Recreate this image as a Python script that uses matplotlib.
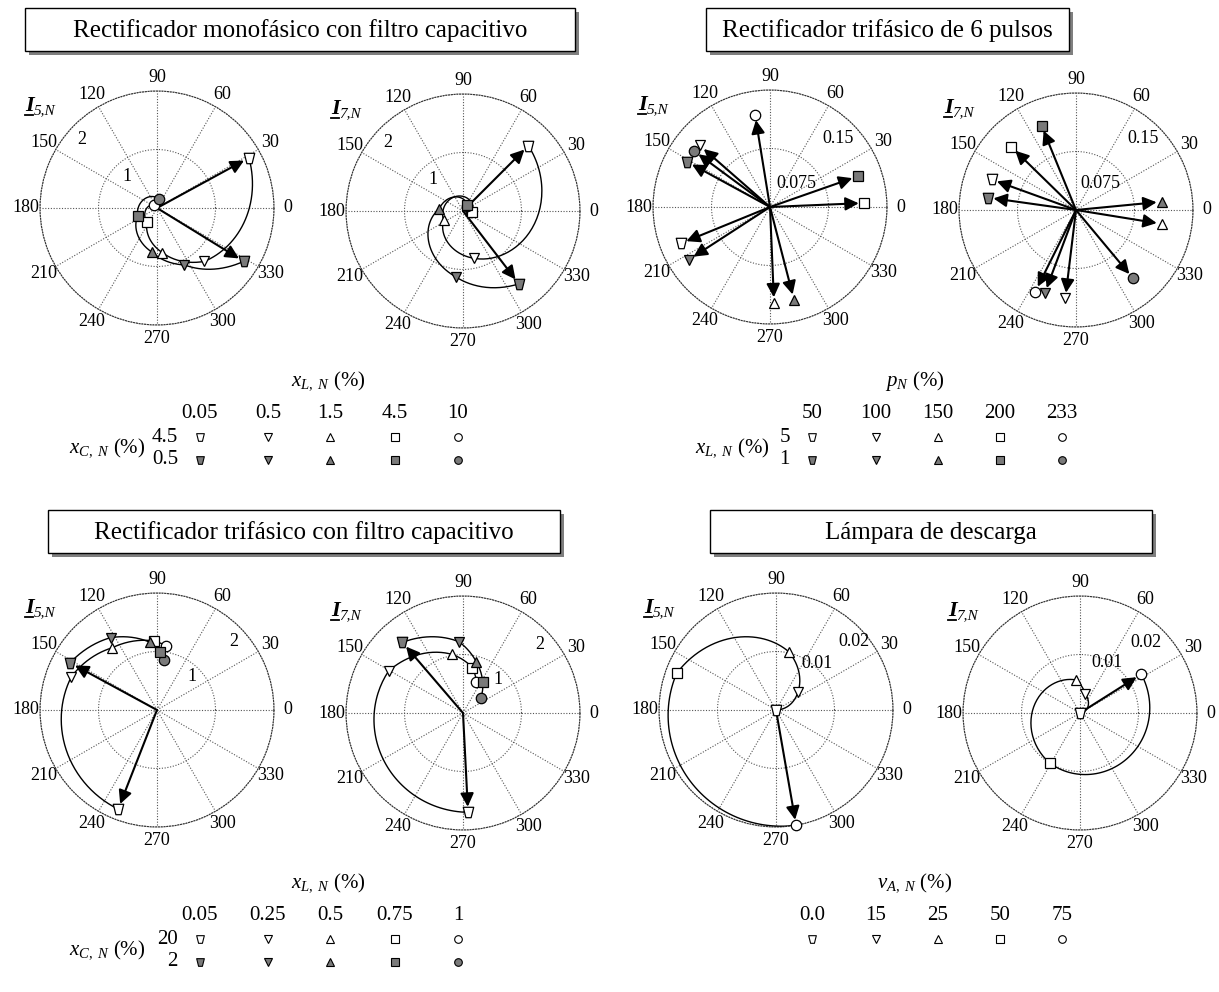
import numpy as np
import matplotlib
matplotlib.use('Agg')
import matplotlib.pyplot as plt
from matplotlib.path import Path
from matplotlib.patches import Rectangle

plt.rcParams['font.family'] = 'Liberation Serif'
plt.rcParams['mathtext.fontset'] = 'custom'
plt.rcParams['mathtext.rm'] = 'Liberation Serif'
plt.rcParams['mathtext.it'] = 'Liberation Serif:italic'
plt.rcParams['mathtext.bf'] = 'Liberation Serif:bold'

# --- datos (angulo en grados, modulo en p.u.) ---
# rectificador monofasico con filtro capacitivo: xC = 4.5 % (blanco), 0.5 % (gris)
mono_xl = ['0.05', '0.5', '1.5', '4.5', '10']
mono_xc = ['4.5', '0.5']
mono_i5_open_ang = [28.6, -48.4, -83.0, -125.0, -225.0]
mono_i5_open_mag = [1.79, 1.22, 0.77, 0.30, 0.07]
mono_i5_fill_ang = [-31.6, -64.2, -96.4, -157.0, -280.0]
mono_i5_fill_mag = [1.74, 1.08, 0.76, 0.36, 0.16]
mono_i7_open_ang = [45.0, -77.0, -154.0, -367.0, -367.0]
mono_i7_open_mag = [1.58, 0.83, 0.37, 0.15, 0.13]
mono_i7_fill_ang = [-52.5, -96.5, -184.0, -307.0, -307.0]
mono_i7_fill_mag = [1.57, 1.13, 0.41, 0.12, 0.10]

# rectificador trifasico de 6 pulsos: xL = 5 % (blanco), 1 % (gris)
six_pn = ['50', '100', '150', '200', '233']
six_xl = ['5', '1']
six_i5_open_ang = [202.2, 138.8, 272.4, 2.4, 99.2]
six_i5_open_mag = [0.123, 0.120, 0.123, 0.121, 0.120]
six_i5_fill_ang = [151.4, 213.0, 284.5, 19.3, 143.6]
six_i5_fill_mag = [0.121, 0.124, 0.123, 0.119, 0.121]
six_i7_open_ang = [160.1, 263.1, 350.8, 135.7, 243.5]
six_i7_open_mag = [0.115, 0.114, 0.112, 0.116, 0.117]
six_i7_fill_ang = [172.0, 249.4, 5.5, 112.2, 309.8]
six_i7_fill_mag = [0.114, 0.114, 0.111, 0.117, 0.114]

# rectificador trifasico con filtro capacitivo: xC = 20 % (blanco), 2 % (gris)
tri_xl = ['0.05', '0.25', '0.5', '0.75', '1']
tri_xc = ['20', '2']
tri_i5_open_ang = [248.6, 158.7, 125.7, 92.2, 82.0]
tri_i5_open_mag = [1.82, 1.57, 1.31, 1.18, 1.11]
tri_i5_fill_ang = [151.5, 122.7, 95.6, 86.7, 82.4]
tri_i5_fill_mag = [1.69, 1.47, 1.16, 0.99, 0.86]
tri_i7_open_ang = [272.9, 150.6, 100.7, 78.3, 66.7]
tri_i7_open_mag = [1.70, 1.46, 1.02, 0.79, 0.58]
tri_i7_fill_ang = [130.6, 93.2, 75.3, 58.0, 40.9]
tri_i7_fill_mag = [1.59, 1.22, 0.90, 0.63, 0.40]

# lampara de descarga
lamp_va = ['0.0', '15', '25', '50', '75']
lamp_i5_ang = [0.0, 39.8, 77.7, 159.7, 279.9]
lamp_i5_mag = [0.0, 0.0049, 0.0102, 0.0181, 0.0200]
lamp_i7_ang = [0.0, 75.3, 97.0, 239.0, 392.3]
lamp_i7_mag = [0.0, 0.0034, 0.0057, 0.0100, 0.0124]

trap = Path([(-1, 1), (1, 1), (0.5, -1), (-0.5, -1), (-1, 1)],
            [Path.MOVETO, Path.LINETO, Path.LINETO, Path.LINETO, Path.CLOSEPOLY])
markers = [trap, 'v', '^', 's', 'o']
GREY = '#7a7a7a'

W, H = 1219, 992
fig = plt.figure(figsize=(W / 100, H / 100), dpi=100)
ov = fig.add_axes([0, 0, 1, 1])
ov.set_xlim(0, W)
ov.set_ylim(H, 0)
ov.axis('off')


def polar_at(cx, cy, rmax, R=117):
    ax = fig.add_axes([(cx - R) / W, (H - cy - R) / H, 2 * R / W, 2 * R / H], projection='polar')
    ax.set_ylim(0, rmax)
    ax.set_yticks([rmax / 2, rmax])
    ax.set_yticklabels([])
    angs = list(range(0, 360, 30))
    ax.set_thetagrids(angs, [str(a) for a in angs], fontsize=13)
    ax.tick_params(axis='x', pad=3, length=0)
    ax.grid(True, color='#555555', linestyle=(0, (1, 1.5)), linewidth=0.8)
    ax.spines['polar'].set_linestyle((0, (1, 1.5)))
    ax.spines['polar'].set_linewidth(0.8)
    ax.spines['polar'].set_color('#333333')
    return ax


def harm_label(ax, n):
    ax.text(-0.065, 0.915, 'I', transform=ax.transAxes, fontsize=16, style='italic',
            weight='bold', ha='left', va='baseline')
    ax.text(-0.028, 0.90, '%d,N' % n, transform=ax.transAxes, fontsize=11, style='italic',
            ha='left', va='baseline')
    ax.plot([-0.066, -0.03], [0.897, 0.897], transform=ax.transAxes, color='k', lw=1.3,
            clip_on=False)


def rlabels(ax, items):
    for ang, r, s in items:
        ax.text(np.radians(ang), r, s, ha='center', va='center', fontsize=13)


def series(ax, ang, mag, filled, curve=True, arrows=()):
    th = np.radians(ang)
    face = GREY if filled else 'white'
    if curve:
        ln, = ax.plot(th, mag, color='k', lw=1.0, zorder=3)
        ln.get_path()._interpolation_steps = 60
    for i in arrows:
        ax.annotate('', xy=(th[i], mag[i]), xytext=(0, 0), annotation_clip=False,
                    arrowprops=dict(arrowstyle='-|>', color='k', lw=1.5, mutation_scale=20,
                                    shrinkA=0, shrinkB=4), zorder=4)
    for i in reversed(range(len(ang))):
        ax.plot(th[i], mag[i], marker=markers[i], ms=7.5, mfc=face, mec='k', mew=0.9,
                ls='none', zorder=5, clip_on=False)


def title_box(x0, x1, y0, y1, text):
    ov.add_patch(Rectangle((x0 + 4, y0 + 4), x1 - x0, y1 - y0, fc='#7f7f7f', ec='none'))
    ov.add_patch(Rectangle((x0, y0), x1 - x0, y1 - y0, fc='white', ec='k', lw=1.0))
    ov.text((x0 + x1) / 2, (y0 + y1) / 2 + 1, text, ha='center', va='center', fontsize=18)


def legend(xs, y0, head, hx, cols, rows=None, rowname=None, lx=None):
    ov.text(hx, y0, head, ha='center', va='center', fontsize=15)
    for x, c in zip(xs, cols):
        ov.text(x, y0 + 32, c, ha='center', va='center', fontsize=15)
    nrows = 2 if rows else 1
    for k in range(nrows):
        y = y0 + 56 + 23 * k
        for i, x in enumerate(xs):
            ov.plot(x, y, marker=markers[i], ms=5.5, mfc=GREY if k else 'white', mec='k',
                    mew=0.8, ls='none')
        if rows:
            ov.text(xs[0] - 22, y, rows[k], ha='right', va='center', fontsize=15)
    if rowname:
        ov.text(lx, y0 + 67, rowname, ha='center', va='center', fontsize=15)


# --- titulos ---
title_box(25, 575, 8, 51, 'Rectificador monofásico con filtro capacitivo')
title_box(706, 1069, 8, 51, 'Rectificador trifásico de 6 pulsos')
title_box(48, 560, 510, 553, 'Rectificador trifásico con filtro capacitivo')
title_box(710, 1152, 510, 553, 'Lámpara de descarga')

# --- monofasico ---
ax = polar_at(157, 208, 2)
harm_label(ax, 5)
rlabels(ax, [(134, 0.74, '1'), (138, 1.74, '2')])
series(ax, mono_i5_open_ang, mono_i5_open_mag, False, arrows=[0])
series(ax, mono_i5_fill_ang, mono_i5_fill_mag, True, arrows=[0])

ax = polar_at(463, 211, 2)
harm_label(ax, 7)
rlabels(ax, [(134, 0.74, '1'), (138, 1.74, '2')])
series(ax, mono_i7_open_ang, mono_i7_open_mag, False, arrows=[0])
series(ax, mono_i7_fill_ang, mono_i7_fill_mag, True, arrows=[0])

# --- 6 pulsos ---
ax = polar_at(770, 207, 0.15)
harm_label(ax, 5)
rlabels(ax, [(41.5, 0.045, '0.075'), (45, 0.124, '0.15')])
series(ax, six_i5_open_ang, six_i5_open_mag, False, curve=False, arrows=range(5))
series(ax, six_i5_fill_ang, six_i5_fill_mag, True, curve=False, arrows=range(5))

ax = polar_at(1076, 210, 0.15)
harm_label(ax, 7)
rlabels(ax, [(47.6, 0.046, '0.075'), (46.6, 0.126, '0.15')])
series(ax, six_i7_open_ang, six_i7_open_mag, False, curve=False, arrows=range(5))
series(ax, six_i7_fill_ang, six_i7_fill_mag, True, curve=False, arrows=range(5))

# --- trifasico con filtro capacitivo ---
ax = polar_at(157, 710, 2)
harm_label(ax, 5)
rlabels(ax, [(43.6, 0.82, '1'), (41.7, 1.75, '2')])
series(ax, tri_i5_open_ang, tri_i5_open_mag, False, arrows=[0])
series(ax, tri_i5_fill_ang, tri_i5_fill_mag, True, arrows=[0])

ax = polar_at(463, 713, 2)
harm_label(ax, 7)
rlabels(ax, [(43.6, 0.82, '1'), (41.7, 1.75, '2')])
series(ax, tri_i7_open_ang, tri_i7_open_mag, False, arrows=[0])
series(ax, tri_i7_fill_ang, tri_i7_fill_mag, True, arrows=[0])

# --- lampara de descarga ---
ax = polar_at(776, 710, 0.02)
harm_label(ax, 5)
rlabels(ax, [(48.7, 0.0106, '0.01'), (41.3, 0.0177, '0.02')])
series(ax, lamp_i5_ang, lamp_i5_mag, False, arrows=[4])

ax = polar_at(1080, 713, 0.02)
harm_label(ax, 7)
rlabels(ax, [(62, 0.0098, '0.01'), (47, 0.0165, '0.02')])
series(ax, lamp_i7_ang, lamp_i7_mag, False, arrows=[4])

# --- leyendas ---
xl = r'$x_{L,\ N}$ (%)'
xc = r'$x_{C,\ N}$ (%)'
legend([200, 268, 330, 395, 458], 381, xl, 328, mono_xl, mono_xc, xc, 107)
legend([812, 876, 938, 1000, 1062], 381, r'$p_{N}$ (%)', 915, six_pn, six_xl, xl, 732)
legend([200, 268, 330, 395, 458], 883, xl, 328, tri_xl, tri_xc, xc, 107)
legend([812, 876, 938, 1000, 1062], 883, r'$v_{A,\ N}$ (%)', 915, lamp_va)

fig.savefig('out.png', dpi=100)
